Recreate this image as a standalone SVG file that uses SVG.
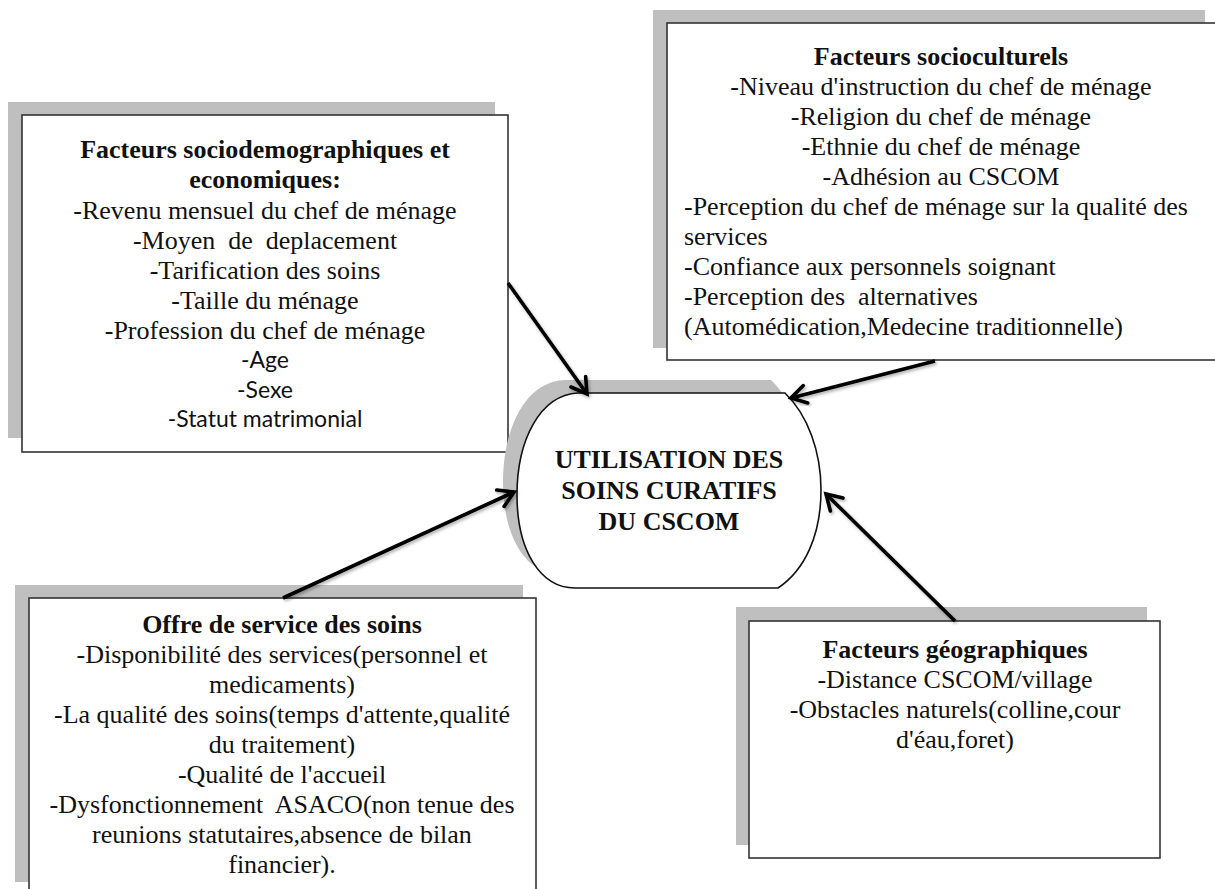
<svg xmlns="http://www.w3.org/2000/svg" width="1215" height="889" viewBox="0 0 1215 889">
<style>
.shadow{fill:#bfbfbf;stroke:none}
.box{fill:#fff;stroke:#333;stroke-width:1.6}
.t{font-family:"Liberation Serif","Times New Roman",serif;font-size:26px;fill:#111;white-space:pre}
.b{font-weight:bold}
.c{text-anchor:middle}
.s{font-family:Lato,"Liberation Sans",Arial,sans-serif;font-size:23px;fill:#111;text-anchor:middle}
.conn{stroke:#000;stroke-width:3.6;fill:none;marker-end:url(#arr);filter:url(#ds)}
</style>
<defs>
<marker id="arr" markerUnits="userSpaceOnUse" viewBox="-20 -14 26 28" refX="0" refY="0" markerWidth="26" markerHeight="28" orient="auto">
<path d="M-15,-9 L0,0 L-15,9" fill="none" stroke="#000" stroke-width="3.6" stroke-linejoin="miter" stroke-linecap="round"/>
</marker>
<filter id="ds" x="-20%" y="-20%" width="140%" height="140%">
<feDropShadow dx="1.5" dy="2" stdDeviation="1.5" flood-color="#000" flood-opacity="0.3"/>
</filter>
</defs>

<g id="node-sociodemo">
<rect class="shadow" x="8" y="102" width="487" height="336"/>
<rect class="box" x="22" y="115" width="486" height="337"/>
<text class="t b c" x="265" y="158">Facteurs sociodemographiques et</text>
<text class="t b c" x="265" y="188">economiques:</text>
<text class="t c" x="265" y="219">-Revenu mensuel du chef de ménage</text>
<text class="t c" x="265" y="249">-Moyen  de  deplacement</text>
<text class="t c" x="265" y="279">-Tarification des soins</text>
<text class="t c" x="265" y="309">-Taille du ménage</text>
<text class="t c" x="265" y="339">-Profession du chef de ménage</text>
<text class="s" x="265" y="368">-Age</text>
<text class="s" x="265" y="398">-Sexe</text>
<text class="s" x="265" y="427">-Statut matrimonial</text>
</g>

<g id="node-socioculturels">
<rect class="shadow" x="653" y="10" width="552" height="338"/>
<rect class="box" x="667" y="23" width="551" height="337"/>
<text class="t b c" x="941" y="65">Facteurs socioculturels</text>
<text class="t c" x="941" y="95">-Niveau d'instruction du chef de ménage</text>
<text class="t c" x="941" y="125">-Religion du chef de ménage</text>
<text class="t c" x="941" y="155">-Ethnie du chef de ménage</text>
<text class="t c" x="941" y="185">-Adhésion au CSCOM</text>
<text class="t" x="684" y="215">-Perception du chef de ménage sur la qualité des</text>
<text class="t" x="684" y="245">services</text>
<text class="t" x="684" y="275">-Confiance aux personnels soignant</text>
<text class="t" x="684" y="305">-Perception des  alternatives</text>
<text class="t" x="684" y="335">(Automédication,Medecine traditionnelle)</text>
</g>

<g id="node-utilisation">
<path class="shadow" transform="translate(-14,-13)" d="M578,393 H785 C808,415 821,452 821,490 C821,535 805,570 778,588 H575 C540,588 517,550 517,495 C517,440 540,395 578,393 Z"/>
<path fill="#fff" stroke="#111" stroke-width="1.6" d="M578,393 H785 C808,415 821,452 821,490 C821,535 805,570 778,588 H575 C540,588 517,550 517,495 C517,440 540,395 578,393 Z"/>
<text class="t b c" x="669" y="468">UTILISATION DES</text>
<text class="t b c" x="669" y="499">SOINS CURATIFS</text>
<text class="t b c" x="669" y="530">DU CSCOM</text>
</g>

<g id="node-offre">
<rect class="shadow" x="15" y="585" width="508" height="297"/>
<rect class="box" x="29" y="598" width="507" height="300"/>
<text class="t b c" x="282" y="633">Offre de service des soins</text>
<text class="t c" x="282" y="663">-Disponibilité des services(personnel et</text>
<text class="t c" x="282" y="693">medicaments)</text>
<text class="t c" x="282" y="723">-La qualité des soins(temps d'attente,qualité</text>
<text class="t c" x="282" y="753">du traitement)</text>
<text class="t c" x="282" y="783">-Qualité de l'accueil</text>
<text class="t c" x="282" y="813">-Dysfonctionnement  ASACO(non tenue des</text>
<text class="t c" x="282" y="843">reunions statutaires,absence de bilan</text>
<text class="t c" x="282" y="873">financier).</text>
</g>

<g id="node-geo">
<rect class="shadow" x="736" y="607" width="411" height="238"/>
<rect class="box" x="749" y="621" width="411" height="237"/>
<text class="t b c" x="955" y="658">Facteurs géographiques</text>
<text class="t c" x="955" y="688">-Distance CSCOM/village</text>
<text class="t c" x="955" y="718">-Obstacles naturels(colline,cour</text>
<text class="t c" x="955" y="748">d'éau,foret)</text>
</g>

<g id="connectors">
<line class="conn" x1="508" y1="283" x2="587" y2="394"/>
<line class="conn" x1="935" y1="361" x2="791" y2="398"/>
<line class="conn" x1="283" y1="598" x2="514" y2="492"/>
<line class="conn" x1="955" y1="621" x2="826" y2="494"/>
</g>
</svg>
